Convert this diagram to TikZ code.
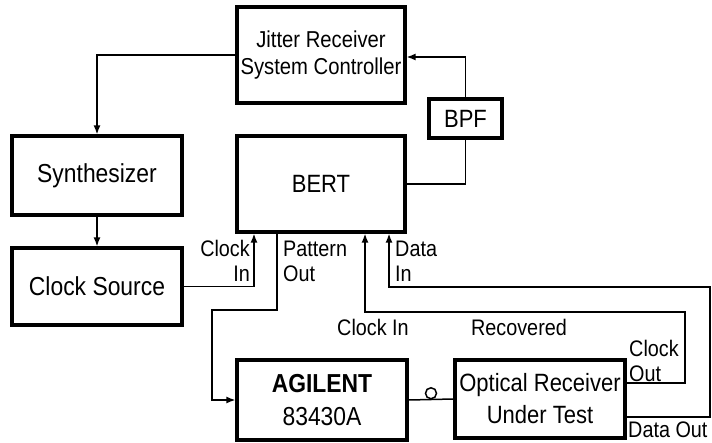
\documentclass[tikz,border=0pt]{standalone}
\usepackage{fontspec}
\setmainfont{Liberation Sans}[FakeStretch=0.88]
\usetikzlibrary{arrows.meta,positioning}

\begin{document}
\begin{tikzpicture}[x=1pt,y=-1pt,>={Latex[length=9pt,width=7pt]},
  unit/.style={draw, line width=3.2pt, align=center, inner sep=0pt},
  wire/.style={line width=1.5pt},
  lbl/.style={font=\fontsize{22.5}{25}\selectfont, inner sep=0pt}]
\useasboundingbox (0,0) rectangle (712,442);
\node[unit, minimum width=168, minimum height=96, font=\fontsize{23}{27}\selectfont] (ctrl) at (321,55) {Jitter Receiver\\System Controller};
\node[unit, minimum width=73, minimum height=39, font=\fontsize{25}{28}\selectfont] (bpf) at (465.5,118.5) {BPF};
\node[unit, minimum width=168, minimum height=96, font=\fontsize{25}{28}\selectfont] (bert) at (321,184) {BERT};
\node[unit, minimum width=170, minimum height=79, font=\fontsize{26}{30}\selectfont] (synth) at (97,175.5) {Synthesizer};
\node[unit, minimum width=170, minimum height=77, font=\fontsize{26}{30}\selectfont] (clk) at (97,286.5) {Clock Source};
\node[unit, minimum width=170, minimum height=80, font=\fontsize{26}{33}\selectfont] (agil) at (322,400) {\textbf{AGILENT}\\83430A};
\node[unit, minimum width=170, minimum height=78, font=\fontsize{25}{32}\selectfont] (orut) at (540,399) {Optical Receiver\\Under Test};
% corners of the wires
\coordinate (po) at (212,310);
\coordinate (rc) at (685,312);
\coordinate (dc) at (710,287);
\draw[wire,->] (ctrl.west) -| (synth.north);
\draw[wire,->] (synth.south) -- (clk.north);
\draw[wire,->] (clk.east) -| ([xshift=-67pt]bert.south);
\draw[wire,->] ([xshift=-44pt]bert.south) |- (po) |- (agil.west);
\draw[wire,->] ([yshift=16pt]orut.east) -| (rc) -| ([xshift=44pt]bert.south);
\draw[wire,->] ([yshift=-18pt]orut.east) -| (dc) -| ([xshift=68pt]bert.south);
\draw[wire] (bert.east) -| (bpf.south);
\draw[wire,->] (bpf.north) |- ([yshift=-2pt]ctrl.east);
\draw[wire] (agil.east) -- node[circle, draw, line width=1.5pt, minimum size=11pt, inner sep=0pt, above=0pt] (fib) {} (orut.west);
% labels
\node[lbl, align=right, anchor=east] (ckin) at (250,261) {Clock\\In};
\node[lbl, align=left, anchor=west] (patout) at (283,261) {Pattern\\Out};
\node[lbl, align=left, anchor=west] (datin) at (395,261) {Data\\In};
\node[lbl] (rcin) at (373,327) {Clock In};
\node[lbl] (rec) at (519,327) {Recovered};
\node[lbl, align=left, anchor=west] (ckout) at (629,361) {Clock\\Out};
\node[lbl, anchor=west] (datout) at (628,430) {Data Out};
\end{tikzpicture}
\end{document}
